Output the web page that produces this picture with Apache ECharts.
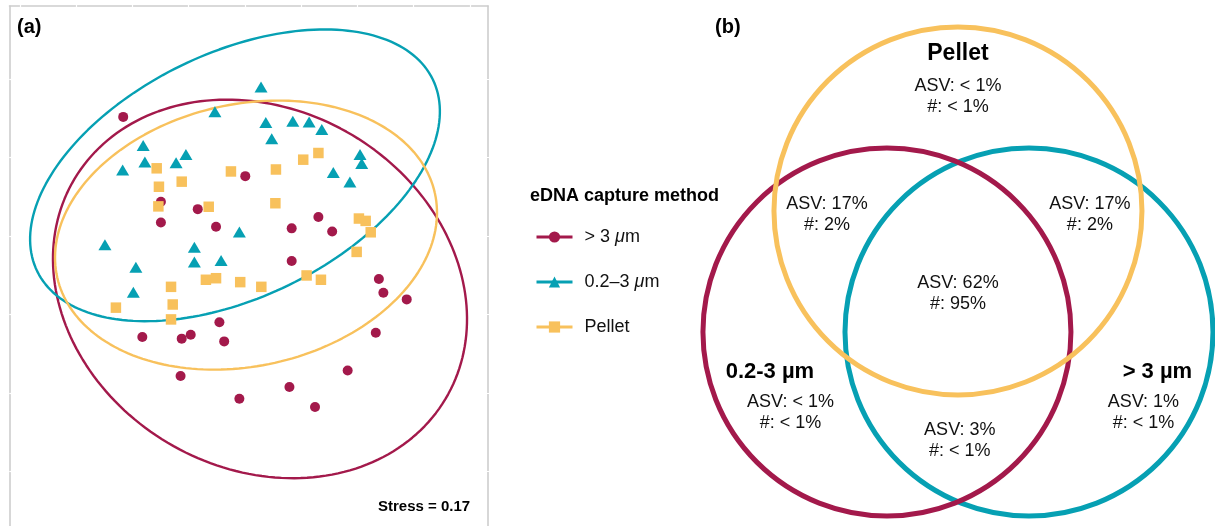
<!DOCTYPE html>
<html><head><meta charset="utf-8">
<script src="https://cdn.jsdelivr.net/npm/echarts@6/dist/echarts.min.js"></script>
<style>html,body{margin:0;padding:0;background:#fff}#chart{width:1215px;height:526px}</style>
</head><body><div id="chart"></div>
<script>
const FONT = '"Liberation Sans", Arial, Helvetica, sans-serif';

// ---------- Panel (a): NMDS ----------
const groupNames = ['> 3 μm', '0.2–3 μm', 'Pellet'];
const groupSymbols = ['circle', 'triangle', 'rect'];
const xTickValues = [-1.0, -0.8, -0.6, -0.4, -0.2, 0.0, 0.2, 0.4, 0.6];
const yTickValues = [-0.4, -0.2, 0.0, 0.2, 0.4, 0.6];

const gt3Points = [
  [-0.633, 0.503], [-0.199, 0.352], [-0.499, 0.287], [-0.368, 0.268], [-0.499, 0.234],
  [-0.303, 0.223], [0.061, 0.248], [-0.034, 0.219], [0.110, 0.211], [-0.034, 0.136],
  [0.276, 0.090], [0.292, 0.055], [0.375, 0.038], [-0.291, -0.020], [-0.565, -0.058],
  [-0.425, -0.062], [-0.393, -0.052], [-0.274, -0.069], [0.265, -0.047], [-0.429, -0.157],
  [0.165, -0.143], [-0.042, -0.185], [-0.220, -0.215], [0.049, -0.236]
];
const midPoints = [
  [-0.143, 0.579], [-0.307, 0.516], [-0.126, 0.489], [-0.030, 0.492], [0.028, 0.490],
  [0.073, 0.471], [-0.105, 0.447], [-0.562, 0.430], [-0.556, 0.388], [-0.635, 0.368],
  [-0.410, 0.407], [-0.445, 0.386], [0.209, 0.407], [0.215, 0.384], [0.114, 0.361],
  [0.173, 0.337], [-0.220, 0.210], [-0.698, 0.177], [-0.380, 0.171], [-0.380, 0.133],
  [-0.285, 0.137], [-0.588, 0.120], [-0.597, 0.056]
];
const pelletPoints = [
  [-0.514, 0.372], [-0.506, 0.325], [-0.425, 0.338], [-0.250, 0.364], [-0.090, 0.369],
  [0.007, 0.394], [0.061, 0.411], [-0.508, 0.275], [-0.329, 0.274], [-0.092, 0.283],
  [0.205, 0.244], [0.229, 0.238], [0.247, 0.209], [0.197, 0.159], [-0.463, 0.070],
  [-0.339, 0.088], [-0.303, 0.092], [-0.217, 0.082], [-0.142, 0.070], [0.019, 0.099],
  [0.070, 0.088], [-0.659, 0.017], [-0.457, 0.025], [-0.463, -0.013]
];

// confidence ellipses: centre and two conjugate semi-axis vectors (NMDS units)
const ellipseCenters = [[-0.1467, 0.0647], [-0.2356, 0.3541], [-0.1964, 0.2018]];
const ellipseAxisU   = [[0.6590, -0.2809], [0.7030, 0.2447], [0.6713, 0.1076]];
const ellipseAxisV   = [[-0.3280, -0.3920], [0.1911, -0.2797], [0.1023, -0.3254]];

const stressText = 'Stress = 0.17';

// ---------- Panel (b): Venn ----------
const vennSetNames = ['> 3 µm', '0.2-3 µm', 'Pellet'];
const vennCircleX = [0.386, -0.386, 0.0];
const vennCircleY = [0.0, 0.0, 0.658];
const vennRadius = [1.0, 1.0, 1.0];

const vennTitleX = [1.084, -1.022, 0.0];
const vennTitleY = [-0.217, -0.217, 1.514];

const vennRegionText = [
  'ASV: < 1%\n#: < 1%', 'ASV: 17%\n#: 2%', 'ASV: 17%\n#: 2%', 'ASV: 62%\n#: 95%',
  'ASV: < 1%\n#: < 1%', 'ASV: 3%\n#: < 1%', 'ASV: 1%\n#: < 1%'
];
const vennRegionX = [0.0, -0.712, 0.717, 0.0, -0.910, 0.010, 1.008];
const vennRegionY = [1.280, 0.639, 0.639, 0.207, -0.435, -0.590, -0.435];

// ---------- styles ----------
const colGt3 = '#a3194b', colMid = '#06a0b3', colPel = '#f8c15c';
const groupColors = [colGt3, colMid, colPel];
const vennColors = [colMid, colGt3, colPel];
const frameColor = '#cdcdcd';

function ellipsePath(c, u, v) {
  const pts = [];
  const n = 200;
  for (let k = 0; k <= n; k++) {
    const t = 2 * Math.PI * k / n;
    pts.push([c[0] + u[0] * Math.cos(t) + v[0] * Math.sin(t),
              c[1] + u[1] * Math.cos(t) + v[1] * Math.sin(t)]);
  }
  return pts;
}

const X_MIN = -1.03733, X_MAX = 0.664;
const Y_MIN = -0.53934, Y_MAX = 0.78553;

function frameAxis(position, inside, withLine, min, max, ticks, gridIndex) {
  return {
    type: 'value', gridIndex, position, min, max, scale: false,
    axisLine: { show: withLine, onZero: false, lineStyle: { color: frameColor, width: 1.6 } },
    axisTick: { show: true, inside, length: 2, customValues: ticks, lineStyle: { color: '#ffffff', width: 1.2 } },
    axisLabel: { show: false },
    splitLine: { show: false }
  };
}

const chart = echarts.init(document.getElementById('chart'), null, { renderer: 'canvas' });

const pointSets = [gt3Points, midPoints, pelletPoints];
const symbolSizes = [10, [13, 11], 10.5];

const series = [];
groupNames.forEach((name, i) => {
  series.push({
    name, type: 'line', xAxisIndex: 0, yAxisIndex: 0,
    data: ellipsePath(ellipseCenters[i], ellipseAxisU[i], ellipseAxisV[i]),
    showSymbol: false, symbol: groupSymbols[i], smooth: false, silent: true,
    lineStyle: { color: groupColors[i], width: 2.4 },
    itemStyle: { color: groupColors[i] }, z: 2
  });
});
groupNames.forEach((name, i) => {
  series.push({
    name: 'pts-' + i, type: 'scatter', xAxisIndex: 0, yAxisIndex: 0,
    data: pointSets[i], symbol: groupSymbols[i], symbolSize: symbolSizes[i],
    itemStyle: { color: groupColors[i], opacity: 1 }, z: 3 + i
  });
});
series.push({
  type: 'custom', coordinateSystem: 'cartesian2d', xAxisIndex: 2, yAxisIndex: 4,
  data: vennSetNames.map((n, i) => [vennCircleX[i], vennCircleY[i], vennRadius[i], i]),
  renderItem(params, api) {
    const c = api.coord([api.value(0), api.value(1)]);
    const r = api.size([api.value(2), api.value(2)])[0];
    return { type: 'circle', shape: { cx: c[0], cy: c[1], r },
      style: { fill: 'none', stroke: vennColors[api.value(3)], lineWidth: 5 } };
  }, z: 2, silent: true
});
series.push({
  type: 'custom', coordinateSystem: 'cartesian2d', xAxisIndex: 2, yAxisIndex: 4,
  data: vennSetNames.map((n, i) => [vennTitleX[i], vennTitleY[i], i]),
  renderItem(params, api) {
    const c = api.coord([api.value(0), api.value(1)]);
    const i = api.value(2);
    return { type: 'text', x: c[0], y: c[1],
      style: { text: vennSetNames[i], align: 'center', verticalAlign: 'middle',
        fontFamily: FONT, fontWeight: 'bold', fontSize: i === 2 ? 23 : 22, fill: '#000' } };
  }, z: 5, silent: true
});
series.push({
  type: 'custom', coordinateSystem: 'cartesian2d', xAxisIndex: 2, yAxisIndex: 4,
  data: vennRegionText.map((t, i) => [vennRegionX[i], vennRegionY[i], i]),
  renderItem(params, api) {
    const c = api.coord([api.value(0), api.value(1)]);
    return { type: 'text', x: c[0], y: c[1],
      style: { text: vennRegionText[api.value(2)], align: 'center', verticalAlign: 'middle',
        fontFamily: FONT, fontSize: 18, lineHeight: 21, fill: '#111' } };
  }, z: 5, silent: true
});

const option = {
  animation: false,
  backgroundColor: '#ffffff',
  grid: [
    { left: 9.5, top: 6, width: 478.5, height: 522, show: false },
    { left: 700, top: 0, width: 515, height: 526, show: false }
  ],
  xAxis: [
    frameAxis('top', true, true, X_MIN, X_MAX, xTickValues, 0),
    frameAxis('top', false, false, X_MIN, X_MAX, xTickValues, 0),
    { type: 'value', gridIndex: 1, min: -1.402, max: 1.397, show: false }
  ],
  yAxis: [
    frameAxis('left', true, true, Y_MIN, Y_MAX, yTickValues, 0),
    frameAxis('left', false, false, Y_MIN, Y_MAX, yTickValues, 0),
    frameAxis('right', true, true, Y_MIN, Y_MAX, yTickValues, 0),
    frameAxis('right', false, false, Y_MIN, Y_MAX, yTickValues, 0),
    { type: 'value', gridIndex: 1, min: -1.054, max: 1.804, show: false }
  ],
  legend: {
    data: groupNames, orient: 'vertical', left: 535, top: 228, padding: 0,
    itemWidth: 36, itemHeight: 14, itemGap: 27, selectedMode: false,
    lineStyle: { width: 3 },
    formatter: name => '{t|' + name.replace('μ', '}{i|μ}{t|') + '}',
    textStyle: {
      padding: [0, 0, 0, 7], color: '#111',
      rich: {
        t: { fontFamily: FONT, fontSize: 18, lineHeight: 14, color: '#111' },
        i: { fontFamily: FONT, fontSize: 18, lineHeight: 14, fontStyle: 'italic', color: '#111' }
      }
    }
  },
  graphic: [
    { type: 'text', left: 17, top: 17, style: { text: '(a)', font: 'bold 20px ' + FONT, fill: '#000' } },
    { type: 'text', left: 715, top: 17, style: { text: '(b)', font: 'bold 20px ' + FONT, fill: '#000' } },
    { type: 'text', left: 530, top: 187, style: { text: 'eDNA capture method', font: 'bold 18px ' + FONT, fill: '#000' } },
    { type: 'text', left: 378, top: 499, style: { text: stressText, font: 'bold 15px ' + FONT, fill: '#000' } }
  ],
  series
};
chart.setOption(option);
</script>
</body></html>
